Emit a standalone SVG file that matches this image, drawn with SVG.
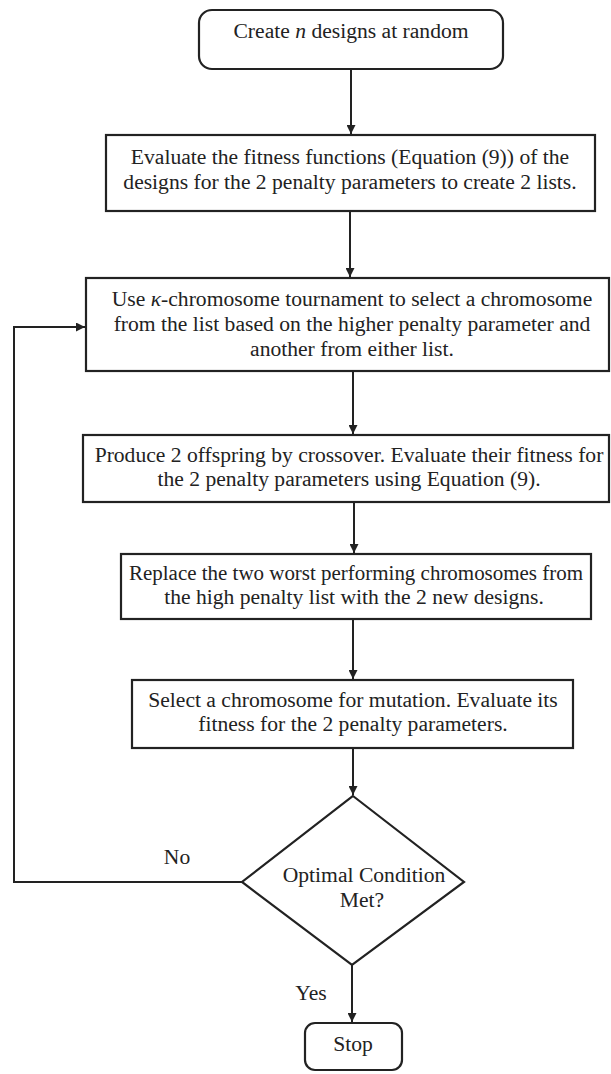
<svg xmlns="http://www.w3.org/2000/svg" width="611" height="1074" viewBox="0 0 611 1074">
<style>
.box{fill:#fff;stroke:#222;stroke-width:2.2}
.t{font-family:"Liberation Serif","Times New Roman",serif;font-size:21.6px;fill:#222;text-anchor:middle}
.c{fill:none;stroke:#222;stroke-width:2}
</style>
<defs>
<marker id="ah" viewBox="0 0 10 10" refX="10" refY="5" markerWidth="9" markerHeight="9" markerUnits="userSpaceOnUse" orient="auto">
<path d="M0,0 L10,5 L0,10 Z" fill="#222"/>
</marker>
</defs>
<rect width="611" height="1074" fill="#fff"/>
<g id="connectors">
<line class="c" x1="351" y1="69" x2="351" y2="134" marker-end="url(#ah)"/>
<line class="c" x1="350" y1="211" x2="350" y2="277" marker-end="url(#ah)"/>
<line class="c" x1="353" y1="371" x2="353" y2="434" marker-end="url(#ah)"/>
<line class="c" x1="354" y1="502" x2="354" y2="553" marker-end="url(#ah)"/>
<line class="c" x1="353" y1="619" x2="353" y2="679" marker-end="url(#ah)"/>
<line class="c" x1="353" y1="748" x2="353" y2="795" marker-end="url(#ah)"/>
<line class="c" x1="352" y1="965" x2="352" y2="1022" marker-end="url(#ah)"/>
<polyline class="c" points="242,882 14,882 14,327 85,327" marker-end="url(#ah)"/>
<text class="t" x="177" y="864">No</text>
<text class="t" x="311" y="1000">Yes</text>
</g>
<g id="start">
<rect class="box" x="199" y="10" width="304" height="59" rx="13"/>
<text class="t" x="351" y="38">Create <tspan font-style="italic">n</tspan> designs at random</text>
</g>
<g id="evaluate">
<rect class="box" x="106" y="135" width="489" height="76"/>
<text class="t" x="350" y="164">Evaluate the fitness functions (Equation (9)) of the</text>
<text class="t" x="350" y="189">designs for the 2 penalty parameters to create 2 lists.</text>
</g>
<g id="tournament">
<rect class="box" x="86" y="278" width="523" height="93"/>
<text class="t" x="352" y="306">Use <tspan font-style="italic">κ</tspan>-chromosome tournament to select a chromosome</text>
<text class="t" x="352" y="331">from the list based on the higher penalty parameter and</text>
<text class="t" x="352" y="356">another from either list.</text>
</g>
<g id="crossover">
<rect class="box" x="83" y="435" width="526" height="67"/>
<text class="t" x="349" y="462">Produce 2 offspring by crossover. Evaluate their  fitness for</text>
<text class="t" x="349" y="486">the 2 penalty parameters using Equation (9).</text>
</g>
<g id="replace">
<rect class="box" x="121" y="554" width="470" height="65"/>
<text class="t" x="356" y="580" textLength="454" lengthAdjust="spacingAndGlyphs">Replace the two worst performing chromosomes from</text>
<text class="t" x="354" y="604">the high penalty list with the 2 new designs.</text>
</g>
<g id="mutation">
<rect class="box" x="132" y="680" width="441" height="68"/>
<text class="t" x="353" y="707">Select a chromosome for mutation. Evaluate its</text>
<text class="t" x="353" y="731">fitness for the 2 penalty parameters.</text>
</g>
<g id="decision">
<polygon class="box" points="353,796 464,882 352,965 242,882"/>
<text class="t" x="364" y="882">Optimal Condition</text>
<text class="t" x="362" y="907">Met?</text>
</g>
<g id="stop">
<rect class="box" x="305" y="1023" width="97" height="47" rx="10"/>
<text class="t" x="353" y="1051">Stop</text>
</g>
</svg>
